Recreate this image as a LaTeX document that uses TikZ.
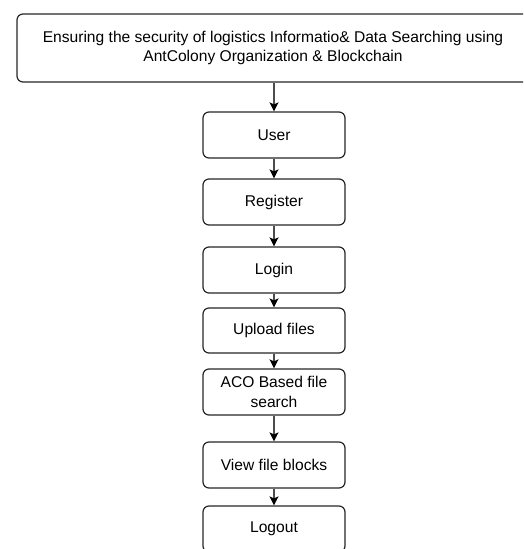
\documentclass[tikz,border=0pt]{standalone}
\usepackage{fontspec}
\setmainfont{Liberation Sans}
\usetikzlibrary{arrows.meta}
\begin{document}
\begin{tikzpicture}[x=1pt,y=-1pt,
  box/.style={draw=black!85,line width=1.2pt,rounded corners=6pt,fill=white,align=center,
    font=\fontsize{15.6}{19.5}\selectfont,inner sep=0pt},
  conn/.style={draw=black!70,line width=1.3pt,-{Stealth[length=9pt,width=9pt,inset=2pt,black]}}]
\useasboundingbox (0,0) rectangle (523,549);
\clip (0,0) rectangle (523,549);
\node[box,minimum width=512pt,minimum height=68pt] (title) at (273,48)
  {Ensuring the security of logistics Informatio\& Data Searching using\\AntColony Organization \& Blockchain};
\node[box,minimum width=142pt,minimum height=46pt] (user) at (274,135) {User};
\node[box,minimum width=142pt,minimum height=46pt] (reg) at (274,202) {Register};
\node[box,minimum width=142pt,minimum height=46pt] (login) at (274,270) {Login};
\node[box,minimum width=142pt,minimum height=45pt] (up) at (274,330.5) {Upload files};
\node[box,minimum width=142pt,minimum height=46pt] (aco) at (274,392) {ACO Based file\\search};
\node[box,minimum width=142pt,minimum height=46pt] (view) at (274,465) {View file blocks};
\node[box,minimum width=142pt,minimum height=46pt] (out) at (274,529) {Logout};
\draw[conn] (title.south -| user.north) -- (user.north);
\draw[conn] (user) -- (reg);
\draw[conn] (reg) -- (login);
\draw[conn] (login) -- (up);
\draw[conn] (up) -- (aco);
\draw[conn] (aco) -- (view);
\draw[conn] (view) -- (out);
\end{tikzpicture}
\end{document}
